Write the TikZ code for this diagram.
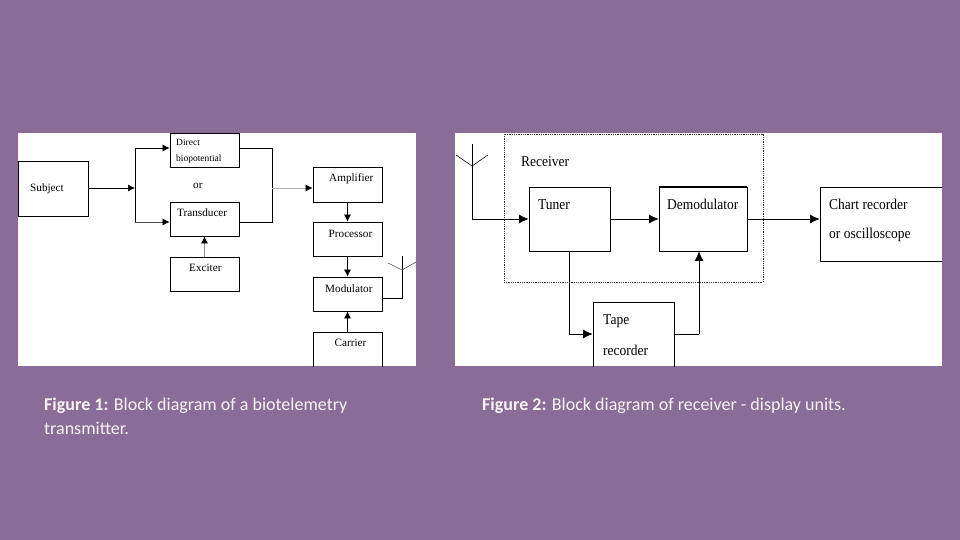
\documentclass[tikz,border=0pt]{standalone}
\usepackage{fontspec}
\setmainfont{Liberation Serif}
\newfontfamily\capfont{Carlito}
\newfontfamily\narrowserif[FakeStretch=0.9]{Liberation Serif}
\usetikzlibrary{arrows.meta}
\definecolor{bgpurple}{HTML}{8A6D96}
\definecolor{capwhite}{HTML}{F7F3F8}
\tikzset{
  panel/.style={fill=white,draw=none},
  blockbox/.style={draw=black,line width=0.8pt,fill=none,inner sep=0pt,anchor=center},
  smalltxt/.style={inner sep=0pt,anchor=west,yshift=-1pt,font=\fontsize{11.2}{13}\selectfont,text=black},
  tinytxt/.style={inner sep=0pt,anchor=west,font=\fontsize{9.5}{11}\selectfont,text=black},
  bigtxt/.style={inner sep=0pt,anchor=west,font=\narrowserif\fontsize{15}{17}\selectfont,text=black},
  captxt/.style={inner sep=0pt,anchor=west,yshift=-1pt,font=\capfont\fontsize{18}{21}\selectfont,text=capwhite},
  link/.style={draw=black,line width=0.7pt},
  paleline/.style={draw=black!45,line width=0.7pt},
  tipsmall/.style={-{Latex[length=7pt,width=7pt,color=black]}},
  tipbig/.style={-{Latex[length=9.5pt,width=9pt,color=black]}},
  aerial/.style={draw=black,line width=0.6pt},
  dotbox/.style={draw=black!80,line width=0.8pt,densely dotted},
}
\begin{document}
\begin{tikzpicture}[x=1pt,y=-1pt]
\useasboundingbox (0,0) rectangle (960,540);
\fill[bgpurple] (0,0) rectangle (960,540);
\fill[panel] (18,133) rectangle (416,366);
\fill[panel] (455,133) rectangle (942,366);

% ---------- left figure
\begin{scope}
\clip (18,133) rectangle (416,366);
\node[blockbox,minimum width=70pt,minimum height=55pt] (subject) at (53,188.5) {};
\node[blockbox,minimum width=69pt,minimum height=34pt] (direct) at (204.5,150) {};
\node[blockbox,minimum width=69pt,minimum height=34pt] (transducer) at (204.5,219) {};
\node[blockbox,minimum width=69pt,minimum height=34pt] (exciter) at (204.5,274) {};
\node[blockbox,minimum width=69pt,minimum height=35pt] (amplifier) at (347.5,184.5) {};
\node[blockbox,minimum width=69pt,minimum height=34pt] (processor) at (347.5,239) {};
\node[blockbox,minimum width=69pt,minimum height=34pt] (modulator) at (347.5,294) {};
\node[blockbox,minimum width=69pt,minimum height=40pt] (carrier) at (347.5,352) {};
\end{scope}

\node[smalltxt] (tsubject) at (30,188) {Subject};
\node[tinytxt] (tdirect) at (176,142.5) {Direct};
\node[tinytxt] (tbio) at (176,159.5) {biopotential};
\node[smalltxt] (tor) at (193,185) {or};
\node[smalltxt] (ttrans) at (177,212) {Transducer};
\node[smalltxt] (texciter) at (189,267) {Exciter};
\node[smalltxt] (tamp) at (329,177.5) {Amplifier};
\node[smalltxt] (tproc) at (328.5,232.5) {Processor};
\node[smalltxt] (tmod) at (325,287.5) {Modulator};
\node[smalltxt] (tcar) at (334.5,342) {Carrier};

\coordinate (jin) at (135,188);
\coordinate (jtop) at (135,148);
\coordinate (jbot) at (135,222);
\coordinate (rtop) at (272,148);
\coordinate (rmid) at (272,188);
\coordinate (rbot) at (272,222);
\coordinate (mast) at (402,298);
\coordinate (masttop) at (402,256);
\coordinate (vee) at (402,270);
\coordinate (veel) at (388,263);
\coordinate (veer) at (416,262);

\draw[link,tipsmall] (subject.east |- jin) -- (jin);
\draw[link] (jbot) -- (jtop);
\draw[link,tipsmall] (jtop) -- (jtop -| direct.west);
\draw[paleline,draw=black!70,tipsmall] (jbot) -- (jbot -| transducer.west);
\draw[link] (rtop -| direct.east) -- (rtop) -- (rbot) -- (rbot -| transducer.east);
\draw[paleline,draw=black!30,tipsmall] (rmid) -- (rmid -| amplifier.west);
\draw[paleline,tipsmall] (exciter.north) -- (transducer.south);
\draw[link,tipsmall] (amplifier.south) -- (processor.north);
\draw[link,tipsmall] (processor.south) -- (modulator.north);
\draw[link,tipsmall] (carrier.north) -- (modulator.south);
\draw[link] (mast -| modulator.east) -- (mast) -- (masttop);
\draw[aerial,draw=black!70] (veel) -- (vee) -- (veer);

% ---------- right figure
\begin{scope}
\clip (455,133) rectangle (942,366);
\node[blockbox,minimum width=81pt,minimum height=64pt] (tuner) at (569.5,219) {};
\node[blockbox,minimum width=88pt,minimum height=64pt] (demod) at (703,219) {};
\node[blockbox,minimum width=130pt,minimum height=74pt] (chart) at (885,224) {};
\node[blockbox,minimum width=81pt,minimum height=70pt] (tape) at (633.5,337) {};
\node[dotbox,inner sep=0pt,minimum width=259pt,minimum height=148pt] (receiver) at (633.5,208) {};
\end{scope}
\draw[line width=1.4pt] (demod.north west) -- (demod.north east);

\node[bigtxt] (trec) at (521,161.5) {Receiver};
\node[bigtxt] (ttuner) at (538,204.5) {Tuner};
\node[bigtxt] (tdemod) at (667,204.5) {Demodulator};
\node[bigtxt] (tchart) at (829,204.5) {Chart recorder};
\node[bigtxt] (tosc) at (829,235) {or oscilloscope};
\node[bigtxt] (ttape) at (603,321) {Tape};
\node[bigtxt] (trecorder) at (603,350) {recorder};

\coordinate (amast) at (472,219);
\coordinate (atop) at (472,144);
\coordinate (avee) at (472,166);
\coordinate (avl) at (456,155);
\coordinate (avr) at (488,155);
\coordinate (tapein) at (569,334);
\coordinate (tapeout) at (699,334);

\draw[link] (atop) -- (amast);
\draw[aerial] (avl) -- (avee) -- (avr);
\draw[link,tipbig] (amast) -- (amast -| tuner.west);
\draw[link,tipbig] (tuner.east) -- (demod.west);
\draw[link,tipbig] (demod.east) -- (demod.east -| chart.west);
\draw[link] (tapein |- tuner.south) -- (tapein);
\draw[link,tipbig] (tapein) -- (tapein -| tape.west);
\draw[link] (tapeout -| tape.east) -- (tapeout);
\draw[link,tipbig] (tapeout) -- (tapeout |- demod.south);

% ---------- captions
\node[captxt] (cap1) at (44,405) {\textbf{Figure 1:} Block diagram of a biotelemetry};
\node[captxt] (cap1b) at (44,427) {transmitter.};
\node[captxt] (cap2) at (482,405) {\textbf{Figure 2:} Block diagram of receiver - display units.};
\end{tikzpicture}
\end{document}
